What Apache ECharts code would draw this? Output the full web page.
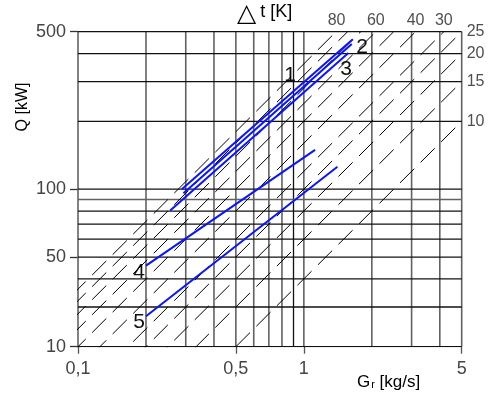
<!DOCTYPE html>
<html>
<head>
<meta charset="utf-8">
<script src="https://cdn.jsdelivr.net/npm/echarts@6/dist/echarts.min.js"></script>
<style>
  html, body { margin: 0; padding: 0; background: #fff; }
  #chart { width: 491px; height: 399px; }
</style>
</head>
<body>
<div id="chart"></div>
<script>
// Mass flow G [kg/s]: grid lines and tick labels
const gGrid = [0.1, 0.2, 0.3, 0.4, 0.5, 0.6, 0.7, 0.8, 0.9, 1, 2, 3, 4, 5];
const gTicks = [0.1, 0.5, 1, 5];
const gTickLabels = ['0,1', '0,5', '1', '5'];

// Heat output Q [kW]: grid lines and tick labels
const qGrid = [20, 30, 40, 50, 60, 70, 80, 90, 100, 200, 300, 400, 500];
const qTicks = [20, 50, 100, 500];
const qTickLabels = ['10', '50', '100', '500'];

// Temperature difference iso-lines, Q = cp * G * Δt
const cp = 4; // kJ/(kg·K)
const deltaT = [10, 15, 20, 25, 30, 40, 50, 60, 70, 80, 90];
const deltaTTop = [80, 60, 40, 30];
const deltaTRight = [25, 20, 15, 10];

// Unit curves, end points [G, Q]
const unit1 = [[0.288, 100], [1.647, 463]];
const unit2 = [[0.293, 96], [1.63, 441]];
const unit3 = [[0.256, 80.5], [1.574, 402]];
const unit4 = [[0.2, 45.8], [1.121, 149.5]];
const unit5 = [[0.2, 27.3], [1.408, 125.7]];

const FONT = '"Liberation Sans", Arial, sans-serif';
const G_MIN = 0.1, G_MAX = 5, Q_MIN = 20, Q_MAX = 500;

function pickLabel(v, ticks, labels) {
  let best = 0, d = Infinity;
  ticks.forEach((t, i) => {
    const dd = Math.abs(Math.log(v) - Math.log(t));
    if (dd < d) { d = dd; best = i; }
  });
  return labels[best];
}

const series = [];

// vertical grid
gGrid.forEach(g => {
  const dark = g === 0.9;
  series.push({
    type: 'line', silent: true, symbol: 'none', z: 1,
    data: [[g, Q_MIN], [g, Q_MAX]],
    lineStyle: { color: dark ? '#111' : '#626262', width: dark ? 1.3 : 1.6 }
  });
});
// horizontal grid
qGrid.forEach(q => {
  const light = q === 90;
  series.push({
    type: 'line', silent: true, symbol: 'none', z: 1,
    data: [[G_MIN, q], [G_MAX, q]],
    lineStyle: { color: light ? '#626262' : '#111', width: light ? 1.6 : 1.3 }
  });
});

// Δt iso-lines
deltaT.forEach(dt => {
  series.push({
    type: 'line', silent: true, symbol: 'none', z: 2, clip: true,
    data: [[0.05, cp * 0.05 * dt], [G_MAX, cp * G_MAX * dt]],
    lineStyle: { color: '#000', width: 1, type: [20, 9] }
  });
});

// Δt labels along the top and right edges
series.push({
  type: 'scatter', silent: true, symbolSize: 0, clip: false, z: 5,
  data: deltaTTop.map(dt => ({
    value: [Q_MAX / (cp * dt), Q_MAX],
    label: { offset: dt === 80 ? [-11, 0] : [0, 0] },
    dt
  })),
  label: {
    show: true, position: 'top', distance: 3,
    formatter: p => String(p.data.dt),
    fontFamily: FONT, fontSize: 16, color: '#222'
  }
});
series.push({
  type: 'scatter', silent: true, symbolSize: 0, clip: false, z: 5,
  data: deltaTRight.map(dt => ({ value: [G_MAX, cp * G_MAX * dt], dt })),
  label: {
    show: true, position: 'right', distance: 5,
    formatter: p => String(p.data.dt),
    fontFamily: FONT, fontSize: 16, color: '#222'
  }
});

// unit curves
[unit1, unit2, unit3, unit4, unit5].forEach((d, i) => {
  series.push({
    name: 'Unit ' + (i + 1),
    type: 'line', symbol: 'none', z: 4,
    data: d,
    lineStyle: { color: '#0a14ff', width: 2 }
  });
});

const chart = echarts.init(document.getElementById('chart'), null, { renderer: 'canvas' });
chart.setOption({
  animation: false,
  backgroundColor: '#fff',
  grid: { left: 78, right: 29.3, top: 31.7, bottom: 52.3, containLabel: false },
  xAxis: {
    type: 'log', logBase: 10, min: G_MIN, max: G_MAX,
    axisLine: { show: false },
    splitLine: { show: false },
    minorTick: { show: false },
    axisTick: { show: true, customValues: gTicks, length: 7, lineStyle: { color: '#555', width: 1.3 } },
    axisLabel: {
      customValues: gTicks, margin: 13,
      formatter: v => pickLabel(v, gTicks, gTickLabels),
      fontFamily: FONT, fontSize: 18, color: '#444'
    }
  },
  yAxis: {
    type: 'log', logBase: 10, min: Q_MIN, max: Q_MAX,
    axisLine: { show: false },
    splitLine: { show: false },
    minorTick: { show: false },
    axisTick: { show: true, customValues: qTicks, length: 8, lineStyle: { color: '#333', width: 1.3 } },
    axisLabel: {
      customValues: qTicks, margin: 12,
      formatter: v => pickLabel(v, qTicks, qTickLabels),
      fontFamily: FONT, fontSize: 18, color: '#444'
    }
  },
  graphic: [
    { type: 'text', x: 23, y: 107, rotation: Math.PI / 2,
      style: { text: 'Q [kW]', font: '16px ' + FONT, fill: '#000', align: 'center', verticalAlign: 'middle' } },
    { type: 'text', x: 237, y: 14,
      style: {
        text: '{tri|△}{t|t [K]}', verticalAlign: 'middle', align: 'left',
        rich: {
          tri: { fontFamily: '"DejaVu Sans", sans-serif', fontSize: 25, fill: '#000' },
          t: { fontFamily: FONT, fontSize: 18, fill: '#000', padding: [0, 0, 3, 4] }
        }
      } },
    { type: 'text', x: 357, y: 382,
      style: {
        text: '{g|G}{r|r}{u| [kg/s]}', verticalAlign: 'middle', align: 'left',
        rich: {
          g: { fontFamily: FONT, fontSize: 17, fill: '#000' },
          r: { fontFamily: FONT, fontSize: 11, fill: '#000', padding: [6, 0, 0, 1] },
          u: { fontFamily: FONT, fontSize: 17, fill: '#000' }
        }
      } },
    { type: 'text', x: 290, y: 75, style: { text: '1', font: '21px ' + FONT, fill: '#111', align: 'center', verticalAlign: 'middle' } },
    { type: 'text', x: 362, y: 47, style: { text: '2', font: '21px ' + FONT, fill: '#111', align: 'center', verticalAlign: 'middle' } },
    { type: 'text', x: 346, y: 69, style: { text: '3', font: '21px ' + FONT, fill: '#111', align: 'center', verticalAlign: 'middle' } },
    { type: 'text', x: 139, y: 272, style: { text: '4', font: '21px ' + FONT, fill: '#111', align: 'center', verticalAlign: 'middle' } },
    { type: 'text', x: 139, y: 322, style: { text: '5', font: '21px ' + FONT, fill: '#111', align: 'center', verticalAlign: 'middle' } }
  ],
  series
});
</script>
</body>
</html>
